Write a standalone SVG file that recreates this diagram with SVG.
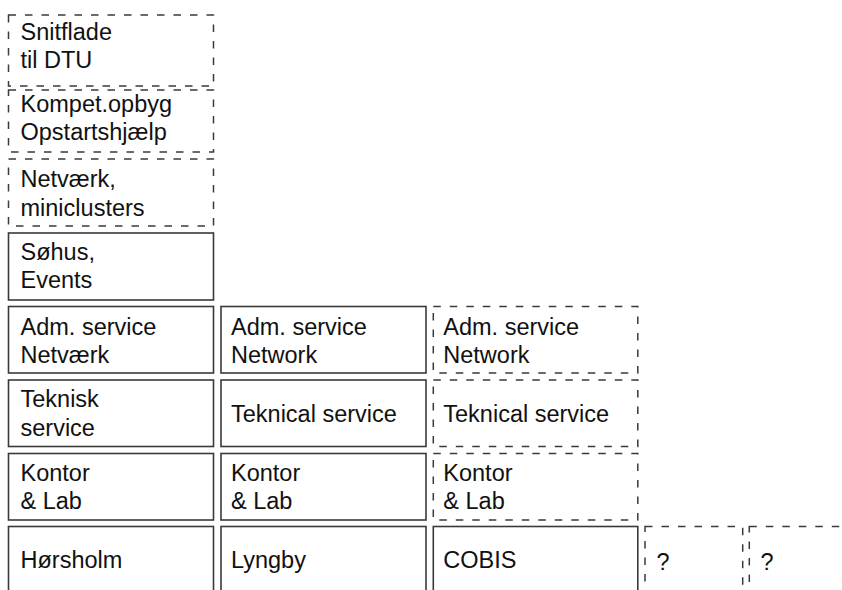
<svg xmlns="http://www.w3.org/2000/svg" width="842" height="590" viewBox="0 0 842 590">
<style>
.box{fill:none;stroke:#3a3a3a;stroke-width:1.6}
.dash{fill:none;stroke:#3a3a3a;stroke-width:1.5;stroke-dasharray:7.5 9}
text{font-family:"Liberation Sans",Arial,Helvetica,sans-serif;font-size:23.5px;fill:#111}
</style>
<rect width="842" height="590" fill="#fff"/>
<g id="snitflade"><rect class="dash" x="8.5" y="15" width="205" height="71"/><text x="20.5" y="40">Snitflade</text><text x="20.5" y="68.3">til DTU</text></g>
<g id="kompet"><rect class="dash" x="8.5" y="90" width="205" height="62"/><text x="20.5" y="111.7">Kompet.opbyg</text><text x="20.5" y="140">Opstartshjælp</text></g>
<g id="netvaerk"><rect class="dash" x="8.5" y="159" width="205" height="67"/><text x="20.5" y="186.7">Netværk,</text><text x="20.5" y="215.7">miniclusters</text></g>
<g id="sohus"><rect class="box" x="8.5" y="233" width="205" height="67"/><text x="20.5" y="260">Søhus,</text><text x="20.5" y="288.3">Events</text></g>
<g id="adm1"><rect class="box" x="8.5" y="306.5" width="205" height="66.5"/><text x="20.5" y="335">Adm. service</text><text x="20.5" y="363.3">Netværk</text></g>
<g id="teknisk1"><rect class="box" x="8.5" y="380" width="205" height="66.5"/><text x="20.5" y="407.3">Teknisk</text><text x="20.5" y="436">service</text></g>
<g id="kontor1"><rect class="box" x="8.5" y="453.5" width="205" height="66.5"/><text x="20.5" y="480.7">Kontor</text><text x="20.5" y="509.3">&amp; Lab</text></g>
<g id="horsholm"><rect class="box" x="8.5" y="526.5" width="205" height="70"/><text x="20.5" y="568.3">Hørsholm</text></g>
<g id="adm2"><rect class="box" x="221" y="306.5" width="205" height="66.5"/><text x="231" y="335">Adm. service</text><text x="231" y="363.3">Network</text></g>
<g id="teknical2"><rect class="box" x="221" y="380" width="205" height="66.5"/><text x="231" y="421.7">Teknical service</text></g>
<g id="kontor2"><rect class="box" x="221" y="453.5" width="205" height="66.5"/><text x="231" y="480.7">Kontor</text><text x="231" y="509.3">&amp; Lab</text></g>
<g id="lyngby"><rect class="box" x="221" y="526.5" width="205" height="70"/><text x="231" y="568.3">Lyngby</text></g>
<g id="adm3"><rect class="dash" x="433.3" y="306.5" width="204.5" height="66.5"/><text x="443.3" y="335">Adm. service</text><text x="443.3" y="363.3">Network</text></g>
<g id="teknical3"><rect class="dash" x="433.3" y="380" width="204.5" height="66.5"/><text x="443.3" y="421.7">Teknical service</text></g>
<g id="kontor3"><rect class="dash" x="433.3" y="453.5" width="204.5" height="66.5"/><text x="443.3" y="480.7">Kontor</text><text x="443.3" y="509.3">&amp; Lab</text></g>
<g id="cobis"><rect class="box" x="433.3" y="526.5" width="204.5" height="70"/><text x="443.3" y="568.3">COBIS</text></g>
<g id="q1"><rect class="dash" x="645" y="526.5" width="97.7" height="70"/><text x="656.5" y="570">?</text></g>
<g id="q2"><rect class="dash" x="749.3" y="526.5" width="98" height="70"/><text x="760.5" y="570">?</text></g>
<g id="connectors"></g>
</svg>
